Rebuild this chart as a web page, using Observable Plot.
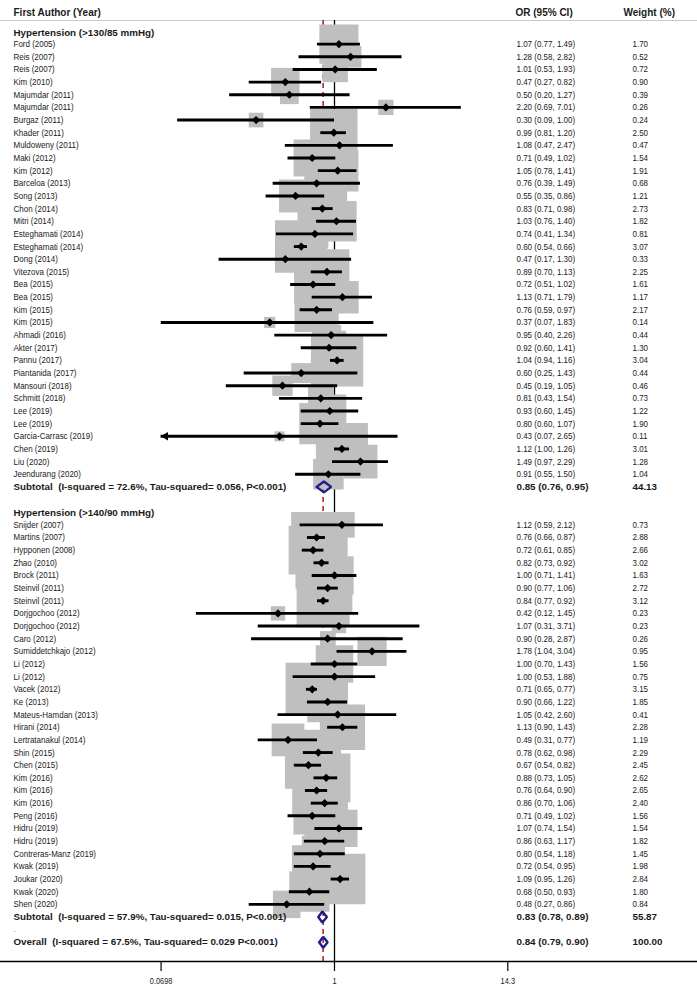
<!DOCTYPE html>
<html><head><meta charset="utf-8">
<script src="https://cdn.jsdelivr.net/npm/d3@7"></script>
<script src="https://cdn.jsdelivr.net/npm/@observablehq/plot@0.6"></script>
<style>
body{margin:0;background:#fff;}
#chart svg{display:block;}
</style></head><body><div id="chart"></div>
<script>
// ---- Data ----
const colHeaders = ["First Author (Year)", "OR (95% CI)", "Weight (%)"];
const groupTitles = ["Hypertension (>130/85 mmHg)", "Hypertension (>140/90 mmHg)"];

const g1Labels = ["Ford (2005)","Reis (2007)","Reis (2007)","Kim (2010)","Majumdar (2011)","Majumdar (2011)","Burgaz (2011)","Khader (2011)","Muldoweny (2011)","Maki (2012)","Kim (2012)","Barceloa (2013)","Song (2013)","Chon (2014)","Mitri (2014)","Esteghamati (2014)","Esteghamati (2014)","Dong (2014)","Vitezova (2015)","Bea (2015)","Bea (2015)","Kim (2015)","Kim (2015)","Ahmadi (2016)","Akter (2017)","Pannu (2017)","Piantanida (2017)","Mansouri (2018)","Schmitt (2018)","Lee (2019)","Lee (2019)","Garcia-Carrasc (2019)","Chen (2019)","Liu (2020)","Jeendurang (2020)"];
const g1OR = [1.07,1.28,1.01,0.47,0.50,2.20,0.30,0.99,1.08,0.71,1.05,0.76,0.55,0.83,1.03,0.74,0.60,0.47,0.89,0.72,1.13,0.76,0.37,0.95,0.92,1.04,0.60,0.45,0.81,0.93,0.80,0.43,1.12,1.49,0.91];
const g1Lo = [0.77,0.58,0.53,0.27,0.20,0.69,0.09,0.81,0.47,0.49,0.78,0.39,0.35,0.71,0.76,0.41,0.54,0.17,0.70,0.51,0.71,0.59,0.07,0.40,0.60,0.94,0.25,0.19,0.43,0.60,0.60,0.07,1.00,0.97,0.55];
const g1Hi = [1.49,2.82,1.93,0.82,1.27,7.01,1.00,1.20,2.47,1.02,1.41,1.49,0.86,0.98,1.40,1.34,0.66,1.30,1.13,1.02,1.79,0.97,1.83,2.26,1.41,1.16,1.43,1.05,1.54,1.45,1.07,2.65,1.26,2.29,1.50];
const g1W = [1.70,0.52,0.72,0.90,0.39,0.26,0.24,2.50,0.47,1.54,1.91,0.68,1.21,2.73,1.82,0.81,3.07,0.33,2.25,1.61,1.17,2.17,0.14,0.44,1.30,3.04,0.44,0.46,0.73,1.22,1.90,0.11,3.01,1.28,1.04];

const g2Labels = ["Snijder (2007)","Martins (2007)","Hypponen (2008)","Zhao (2010)","Brock (2011)","Steinvil (2011)","Steinvil (2011)","Dorjgochoo (2012)","Dorjgochoo (2012)","Caro (2012)","Sumiddetchkajo (2012)","Li (2012)","Li (2012)","Vacek (2012)","Ke (2013)","Mateus-Hamdan (2013)","Hirani (2014)","Lertratanakul (2014)","Shin (2015)","Chen (2015)","Kim (2016)","Kim (2016)","Kim (2016)","Peng (2016)","Hidru (2019)","Hidru (2019)","Contreras-Manz (2019)","Kwak (2019)","Joukar (2020)","Kwak (2020)","Shen (2020)"];
const g2OR = [1.12,0.76,0.72,0.82,1.00,0.90,0.84,0.42,1.07,0.90,1.78,1.00,1.00,0.71,0.90,1.05,1.13,0.49,0.78,0.67,0.88,0.76,0.86,0.71,1.07,0.86,0.80,0.72,1.09,0.68,0.48];
const g2Lo = [0.59,0.66,0.61,0.73,0.71,0.77,0.77,0.12,0.31,0.28,1.04,0.70,0.53,0.65,0.66,0.42,0.90,0.31,0.62,0.54,0.73,0.64,0.70,0.49,0.74,0.63,0.54,0.54,0.95,0.50,0.27];
const g2Hi = [2.12,0.87,0.85,0.92,1.41,1.06,0.92,1.45,3.71,2.87,3.04,1.43,1.88,0.77,1.22,2.60,1.43,0.77,0.98,0.82,1.05,0.90,1.06,1.02,1.54,1.17,1.18,0.95,1.26,0.93,0.86];
const g2W = [0.73,2.88,2.66,3.02,1.63,2.72,3.12,0.23,0.23,0.26,0.95,1.56,0.75,3.15,1.85,0.41,2.28,1.19,2.29,2.45,2.62,2.65,2.40,1.56,1.54,1.82,1.45,1.98,2.84,1.80,0.84];

const summaryLabels = ["Subtotal  (I-squared = 72.6%, Tau-squared= 0.056, P<0.001)", "Subtotal  (I-squared = 57.9%, Tau-squared= 0.015, P<0.001)", "Overall  (I-squared = 67.5%, Tau-squared= 0.029 P<0.001)"];
const summaryOR = [0.85, 0.83, 0.84];
const summaryLo = [0.76, 0.78, 0.79];
const summaryHi = [0.95, 0.89, 0.90];
const summaryW = [44.13, 55.87, 100.00];

const tickValues = [0.0698, 1, 14.3];
const tickLabels = ["0.0698", "1", "14.3"];
const clippedLow = ["Garcia-Carrasc (2019)"]; // CI truncated at the axis limit, drawn with an arrow

// ---- Layout (row indices) ----
const fmt = v => v.toFixed(2);
const studies = [];
g1Labels.forEach((l, i) => studies.push({label: l, or: g1OR[i], lo: g1Lo[i], hi: g1Hi[i], w: g1W[i], k: 1 + i}));
const sub1K = 1 + g1Labels.length;
const head2K = sub1K + 2;
g2Labels.forEach((l, i) => studies.push({label: l, or: g2OR[i], lo: g2Lo[i], hi: g2Hi[i], w: g2W[i], k: head2K + 1 + i}));
const sub2K = head2K + 1 + g2Labels.length;
const dotK = sub2K + 1;
const overallK = sub2K + 2;
studies.forEach(d => {
  d.clip = clippedLow.includes(d.label);
  d.loDraw = d.clip ? tickValues[0] : d.lo;
  d.ciText = `${fmt(d.or)} (${fmt(d.lo)}, ${fmt(d.hi)})`;
  d.wText = fmt(d.w);
});
const summaries = summaryLabels.map((l, i) => ({label: l, or: summaryOR[i], lo: summaryLo[i], hi: summaryHi[i], w: summaryW[i], k: [sub1K, sub2K, overallK][i],
  ciText: `${fmt(summaryOR[i])} (${fmt(summaryLo[i])}, ${fmt(summaryHi[i])})`, wText: fmt(summaryW[i])}));
const groupRows = groupTitles.map((t, i) => ({label: t, k: [0, head2K][i]}));
const diamondPts = [];
const halfH = 0.43;
summaries.forEach((s, i) => {
  diamondPts.push({id: i, x: s.lo, y: s.k}, {id: i, x: s.or, y: s.k - halfH}, {id: i, x: s.hi, y: s.k},
                  {id: i, x: s.or, y: s.k + halfH}, {id: i, x: s.lo, y: s.k});
});
const ticks = tickValues.map((v, i) => ({v, label: tickLabels[i]}));

const W = 697, H = 991, mTop = 20, mBottom = 30;
const pivotPx = 334, pxPerDecade = 150;
const rowPx = 12.65, row0Px = 31.0;
const condensed = "'Liberation Sans',Arial,sans-serif";  // horizontally condensed after render
const regular = "'Liberation Sans',Arial,sans-serif";
const txt = "#1a1a1a";

const chart = Plot.plot({
  width: W, height: H,
  marginLeft: 0, marginRight: 0, marginTop: mTop, marginBottom: mBottom,
  x: {type: "log", domain: [10 ** (-pivotPx / pxPerDecade), 10 ** ((W - pivotPx) / pxPerDecade)], axis: null},
  y: {domain: [(mTop - row0Px) / rowPx, (H - mBottom - row0Px) / rowPx], range: [mTop, H - mBottom], axis: null},
  r: {type: "sqrt", domain: [0, 1], range: [0, 16.93]},
  style: {fontFamily: regular, fontSize: "9.5px", color: txt, background: "#fff"},
  marks: [
    Plot.frame({anchor: "top", stroke: "#c8c8c8", strokeWidth: 1}),
    Plot.ruleX([1], {stroke: "#000", strokeWidth: 1.3}),
    Plot.ruleX([summaryOR[2]], {stroke: "#b3262d", strokeWidth: 1.6, strokeDasharray: "5,4"}),
    Plot.dot(studies, {x: "or", y: "k", r: "w", symbol: "square", fill: "#bfbfbf", stroke: null}),
    Plot.ruleY(studies, {y: "k", x1: "loDraw", x2: "hi", stroke: "#000", strokeWidth: 2.9}),
    Plot.dot(studies.filter(d => d.clip), {x: "loDraw", y: "k", symbol: "triangle", rotate: -90, r: 3.1, fill: "#000", stroke: null, dx: 4.5}),
    Plot.dot(studies, {x: "or", y: "k", symbol: "diamond2", r: 3.7, fill: "#000", stroke: null}),
    Plot.line(diamondPts, {x: "x", y: "y", z: "id", stroke: "#1c1c8a", strokeWidth: 2.4, strokeLinejoin: "miter"}),
    // axis
    Plot.frame({anchor: "bottom", stroke: "#000", strokeWidth: 1.3}),
    Plot.axisX({ticks: tickValues, tickFormat: () => "", tickSize: 10, anchor: "bottom", stroke: "#000", strokeWidth: 1.2}),
    Plot.text(ticks, {x: "v", text: "label", frameAnchor: "bottom", dy: 22, fontSize: 8.6, fontFamily: condensed, fill: txt}),
    // header row
    Plot.text([colHeaders[0]], {text: d => d, frameAnchor: "top-left", dx: 13, dy: -12, textAnchor: "start", fontWeight: "bold", fontSize: 10, fill: txt}),
    Plot.text([colHeaders[1]], {text: d => d, frameAnchor: "top-right", dx: -(W - 515), dy: -12, textAnchor: "start", fontWeight: "bold", fontSize: 10, fill: txt}),
    Plot.text([colHeaders[2]], {text: d => d, frameAnchor: "top-right", dx: -(W - 623), dy: -12, textAnchor: "start", fontWeight: "bold", fontSize: 10, fill: txt}),
    // group titles
    Plot.text(groupRows, {y: "k", text: "label", frameAnchor: "left", dx: 13, dy: 1, textAnchor: "start", fontWeight: "bold", fontSize: 9.8, fill: txt}),
    // study labels and values
    Plot.text(studies, {y: "k", text: "label", frameAnchor: "left", dx: 13, textAnchor: "start", fontFamily: condensed, fontSize: 9.3, fill: txt}),
    Plot.text(studies, {y: "k", text: "ciText", frameAnchor: "right", dx: -(W - 516), textAnchor: "start", fontFamily: condensed, fontSize: 9.3, fill: txt}),
    Plot.text(studies, {y: "k", text: "wText", frameAnchor: "right", dx: -(W - 632), textAnchor: "start", fontFamily: condensed, fontSize: 9.3, fill: txt}),
    // summary rows
    Plot.text(summaries, {y: "k", text: "label", frameAnchor: "left", dx: 13, textAnchor: "start", fontWeight: "bold", fontSize: 9.8, fill: txt}),
    Plot.text(summaries, {y: "k", text: "ciText", frameAnchor: "right", dx: -(W - 516), textAnchor: "start", fontWeight: "bold", fontSize: 9.8, fill: txt}),
    Plot.text(summaries, {y: "k", text: "wText", frameAnchor: "right", dx: -(W - 632), textAnchor: "start", fontWeight: "bold", fontSize: 9.8, fill: txt}),
    Plot.text([{k: dotK}], {y: "k", text: () => ".", frameAnchor: "left", dx: 13, textAnchor: "start", fontSize: 8, fill: "#777"})
  ]
});
// condense the narrow-font text groups horizontally (stand-in for Arial Narrow)
chart.querySelectorAll('g[aria-label="text"][font-family] text').forEach(t => {
  const tr = t.getAttribute("transform");
  if (tr) t.setAttribute("transform", tr + " scale(0.86,1)");
  else {
    const x = +t.getAttribute("x") || 0, y = +t.getAttribute("y") || 0;
    t.removeAttribute("x"); t.removeAttribute("y");
    t.setAttribute("transform", `translate(${x},${y}) scale(0.86,1)`);
  }
});
document.getElementById("chart").append(chart);
</script>
</body></html>
